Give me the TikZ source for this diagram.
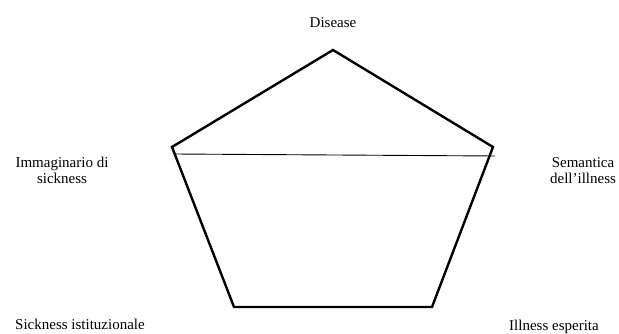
\documentclass[tikz,border=0pt]{standalone}
\usepackage{fontspec}
\setmainfont{Liberation Serif}
\usepackage{xcolor}
\definecolor{ink}{HTML}{000000}

\begin{document}
\begin{tikzpicture}[
  x=1pt, y=-1pt,
  every node/.style={font=\fontsize{15}{16}\selectfont, align=center, inner sep=0pt, text=ink},
  label/.style={anchor=base},
  pentagon/.style={draw=ink, line width=2.4pt, line join=miter},
  divider/.style={draw=ink, line width=0.9pt},
]
\useasboundingbox (0,0) rectangle (619,334);
%
% ─── VERTICI ───
\coordinate (top) at (333,50);
\coordinate (left) at (172,147);
\coordinate (right) at (493,147);
\coordinate (botR) at (432,307);
\coordinate (botL) at (234,307);
\coordinate (cutL) at (174,154);
\coordinate (cutR) at (495,156);
%
% ─── ETICHETTE ───
\node[label] (disease) at (333,28) {Disease};
\node[label] (imag) at (62,184) {Immaginario di\\sickness};
\node[label] (sem) at (583,184) {Semantica\\dell'illness};
\node[label] (sick) at (80,329) {Sickness istituzionale};
\node[label] (ill) at (554,330) {Illness esperita};
%
% ─── PENTAGONO ───
\draw[pentagon] (top) -- (right) -- (botR) -- (botL) -- (left) -- cycle;
\draw[divider] (cutL) -- (cutR);

\end{tikzpicture}
\end{document}
